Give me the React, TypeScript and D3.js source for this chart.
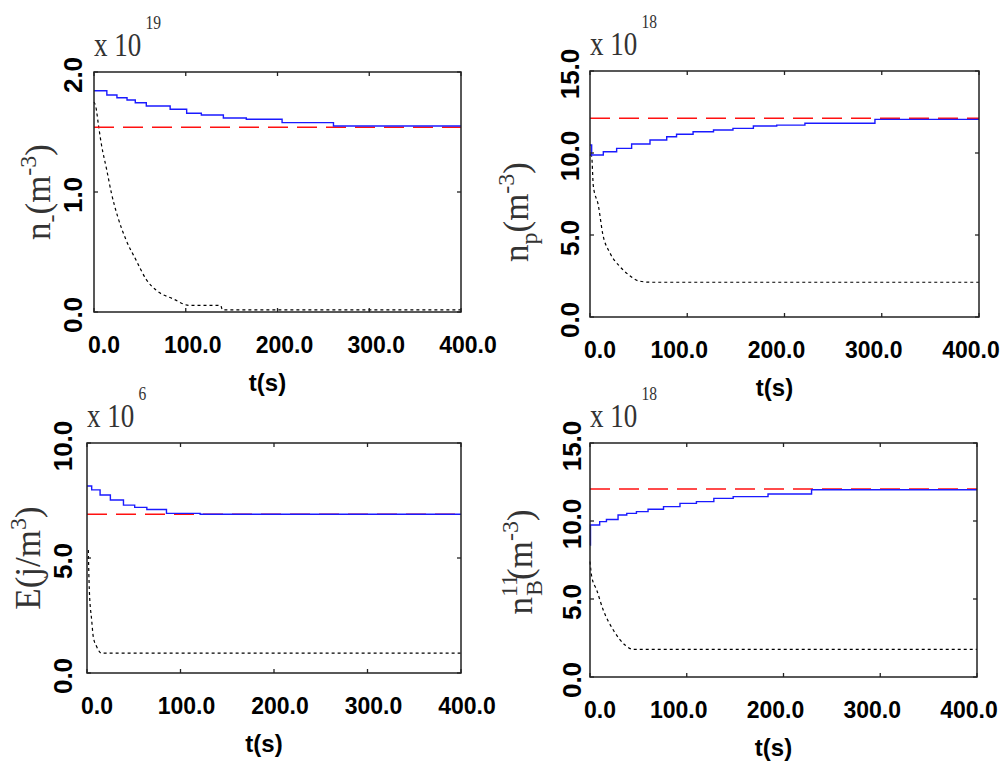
import * as d3 from 'd3';
import React from 'react';

// shared time axis
const timeTicks = [0, 100, 200, 300, 400];
const timeTickLabels = ['0.0', '100.0', '200.0', '300.0', '400.0'];

// panel 1: n_ (x 10^19)
const nMinusBlueT = [0, 14, 25, 36, 45, 57, 83, 101, 117, 141, 166, 205, 261, 400];
const nMinusBlueV = [1.844, 1.808, 1.786, 1.767, 1.744, 1.717, 1.689, 1.656, 1.642, 1.617, 1.606, 1.578, 1.55, 1.55];
const nMinusRed = 1.54;
const nMinusBlackT = [0, 2, 5, 8, 14, 19, 26, 35, 46, 57, 68, 86, 104, 138, 140, 400];
const nMinusBlackV = [1.75, 1.71, 1.55, 1.4, 1.18, 0.99, 0.79, 0.6, 0.43, 0.27, 0.18, 0.11, 0.055, 0.055, 0.017, 0.017];
const nMinusYTicks = [0, 1, 2];
const nMinusYLabels = ['0.0', '1.0', '2.0'];

// panel 2: n_p (x 10^18)
const npBlueT = [0, 1.7, 13.7, 27.4, 42.8, 61.7, 78.9, 89, 106, 127, 147, 168, 192, 221, 293, 400];
const npBlueV = [10.49, 9.88, 10.08, 10.28, 10.55, 10.79, 10.99, 11.14, 11.3, 11.4, 11.5, 11.65, 11.7, 11.81, 12.05, 12.05];
const npRed = 12.12;
const npBlackT = [0, 1.7, 3.4, 8.6, 13, 20.6, 30.8, 40, 50, 62, 400];
const npBlackV = [9.9, 9.8, 8.0, 6.8, 5.1, 3.9, 3.07, 2.56, 2.2, 2.12, 2.12];
const npYTicks = [0, 5, 10, 15];
const npYLabels = ['0.0', '5.0', '10.0', '15.0'];

// panel 3: E (x 10^6)
const eBlueT = [0, 5, 14, 25, 39, 51, 64, 85, 121, 400];
const eBlueV = [8.13, 7.96, 7.74, 7.52, 7.3, 7.2, 7.11, 6.94, 6.9, 6.9];
const eRed = 6.9;
const eBlackT = [1.4, 2.5, 5, 6.7, 10.4, 15.7, 400];
const eBlackV = [5.35, 3.6, 2.3, 1.58, 1.14, 0.86, 0.86];
const eYTicks = [0, 5, 10];
const eYLabels = ['0.0', '5.0', '10.0'];

// panel 4: n_B^11 (x 10^18)
const nbBlueT = [0, 0.5, 10, 17, 29, 38, 48, 60, 76, 93, 110, 128, 148, 184, 229, 400];
const nbBlueV = [8.46, 9.74, 9.96, 10.1, 10.38, 10.49, 10.6, 10.75, 10.92, 11.13, 11.24, 11.45, 11.56, 11.73, 12.0, 12.0];
const nbRed = 12.05;
const nbBlackT = [0, 1.8, 6.9, 13.7, 24.1, 36.2, 44.8, 400];
const nbBlackV = [7.4, 6.43, 5.58, 4.29, 3.01, 2.05, 1.77, 1.77];
const nbYTicks = [0, 5, 10, 15];
const nbYLabels = ['0.0', '5.0', '10.0', '15.0'];

const SERIF = '"Liberation Serif", "Times New Roman", serif';
const SANS = '"Liberation Sans", Arial, sans-serif';

const YLabel1 = () => (
  <>
    <tspan>n</tspan>
    <tspan dy={9} fontSize={24}>-</tspan>
    <tspan dy={-9}>(m</tspan>
    <tspan dy={-14} fontSize={24}>-3</tspan>
    <tspan dy={14}>)</tspan>
  </>
);
const YLabel2 = () => (
  <>
    <tspan>n</tspan>
    <tspan dy={9} fontSize={24}>p</tspan>
    <tspan dy={-9}>(m</tspan>
    <tspan dy={-14} fontSize={24}>-3</tspan>
    <tspan dy={14}>)</tspan>
  </>
);
const YLabel3 = () => (
  <>
    <tspan>E(j/m</tspan>
    <tspan dy={-14} fontSize={24}>3</tspan>
    <tspan dy={14}>)</tspan>
  </>
);
const YLabel4 = () => (
  <>
    <tspan>n</tspan>
    <tspan dy={-15} fontSize={24}>11</tspan>
    <tspan dx={-22} dy={25} fontSize={24}>B</tspan>
    <tspan dy={-10}>(m</tspan>
    <tspan dy={-14} fontSize={24}>-3</tspan>
    <tspan dy={14}>)</tspan>
  </>
);

const panels = [
  {
    left: 94, top: 72, right: 461, bottom: 312, yMax: 2,
    blueT: nMinusBlueT, blueV: nMinusBlueV, red: nMinusRed, blackT: nMinusBlackT, blackV: nMinusBlackV,
    yTicks: nMinusYTicks, yLabels: nMinusYLabels, exp: '19',
    yTickX: -12, xShift: 7, yLabelX: -44, yLabelDy: 0, YLabel: YLabel1,
  },
  {
    left: 590, top: 71, right: 979, bottom: 317, yMax: 15,
    blueT: npBlueT, blueV: npBlueV, red: npRed, blackT: npBlackT, blackV: npBlackV,
    yTicks: npYTicks, yLabels: npYLabels, exp: '18',
    yTickX: -11, xShift: -8, yLabelX: -62, yLabelDy: 18, YLabel: YLabel2,
  },
  {
    left: 87, top: 443, right: 461, bottom: 673, yMax: 10,
    blueT: eBlueT, blueV: eBlueV, red: eRed, blackT: eBlackT, blackV: eBlackV,
    yTicks: eYTicks, yLabels: eYLabels, exp: '6',
    yTickX: -15, xShift: 6, yLabelX: -47, yLabelDy: 0, YLabel: YLabel3,
  },
  {
    left: 590, top: 443, right: 977, bottom: 677, yMax: 15,
    blueT: nbBlueT, blueV: nbBlueV, red: nbRed, blackT: nbBlackT, blackV: nbBlackV,
    yTicks: nbYTicks, yLabels: nbYLabels, exp: '18',
    yTickX: -9, xShift: -8, yLabelX: -58, yLabelDy: 2, YLabel: YLabel4,
  },
];

const Panel = ({ p }: { p: any }) => {
  const x = d3.scaleLinear().domain([0, 400]).range([p.left, p.right]);
  const y = d3.scaleLinear().domain([0, p.yMax]).range([p.bottom, p.top]);

  const idxLine = (ts: number[], vs: number[], curve: any) =>
    d3.line<number>()
      .x(i => x(ts[i]))
      .y(i => y(vs[i]))
      .curve(curve)(d3.range(ts.length)) as string;

  const bluePath = idxLine(p.blueT, p.blueV, d3.curveStepAfter);
  const blackPath = idxLine(p.blackT, p.blackV, d3.curveMonotoneX);
  const redPath = d3.line<number>().x(t => x(t)).y(() => y(p.red))([0, 400]) as string;

  const midY = (p.top + p.bottom) / 2;
  const YLabel = p.YLabel;

  return (
    <g>
      {/* curves */}
      <path d={blackPath} fill="none" stroke="#000" strokeWidth={1.2} strokeDasharray="3,3" />
      <path d={redPath} fill="none" stroke="#ff1010" strokeWidth={1.6} strokeDasharray="20,9" />
      <path d={bluePath} fill="none" stroke="#1a1aff" strokeWidth={1.4} />

      {/* frame */}
      <rect x={p.left} y={p.top} width={p.right - p.left} height={p.bottom - p.top}
        fill="none" stroke="#222" strokeWidth={1.5} />
      {timeTicks.map(t => (
        <g key={'xt' + t}>
          <line x1={x(t)} x2={x(t)} y1={p.bottom} y2={p.bottom - 4} stroke="#222" strokeWidth={1.3} />
          <line x1={x(t)} x2={x(t)} y1={p.top} y2={p.top + 4} stroke="#222" strokeWidth={1.3} />
        </g>
      ))}
      {p.yTicks.map((v: number) => (
        <g key={'yt' + v}>
          <line x1={p.left} x2={p.left + 4} y1={y(v)} y2={y(v)} stroke="#222" strokeWidth={1.3} />
          <line x1={p.right} x2={p.right - 4} y1={y(v)} y2={y(v)} stroke="#222" strokeWidth={1.3} />
        </g>
      ))}

      {/* x tick labels */}
      {timeTicks.map((t, i) => (
        <text key={'xl' + t}
          x={i === 0 ? Math.max(x(t) + p.xShift, p.left + 10) : x(t) + p.xShift}
          y={p.bottom + 41}
          textAnchor="middle" fontFamily={SANS} fontWeight="bold" fontSize={23} fill="#000">
          {timeTickLabels[i]}
        </text>
      ))}
      <text x={(p.left + p.right) / 2 - 10} y={p.bottom + 79} textAnchor="middle"
        fontFamily={SANS} fontWeight="bold" fontSize={24} fill="#000">t(s)</text>

      {/* y tick labels */}
      {p.yTicks.map((v: number, i: number) => (
        <text key={'yl' + v}
          transform={`translate(${p.left + p.yTickX},${y(v) + 3}) rotate(-90)`}
          textAnchor="middle" fontFamily={SANS} fontWeight="bold" fontSize={26} fill="#000">
          {p.yLabels[i]}
        </text>
      ))}

      {/* y axis title */}
      <text transform={`translate(${p.left + p.yLabelX},${midY + p.yLabelDy}) rotate(-90)`}
        textAnchor="middle" fontFamily={SERIF} fontSize={35} fill="#333">
        <YLabel />
      </text>

      {/* exponent */}
      <text transform={`translate(${p.left},${p.top - 16}) scale(0.82,1)`}
        fontFamily={SERIF} fontSize={33} fill="#333">
        x 10
        <tspan dx={5} dy={-27} fontSize={19}>{p.exp}</tspan>
      </text>
    </g>
  );
};

const App = () => (
  <svg width={1002} height={764} style={{ position: 'absolute', left: 0, top: 0, background: '#fff' }}>
    {panels.map((p, i) => <Panel key={i} p={p} />)}
  </svg>
);

export default App;
